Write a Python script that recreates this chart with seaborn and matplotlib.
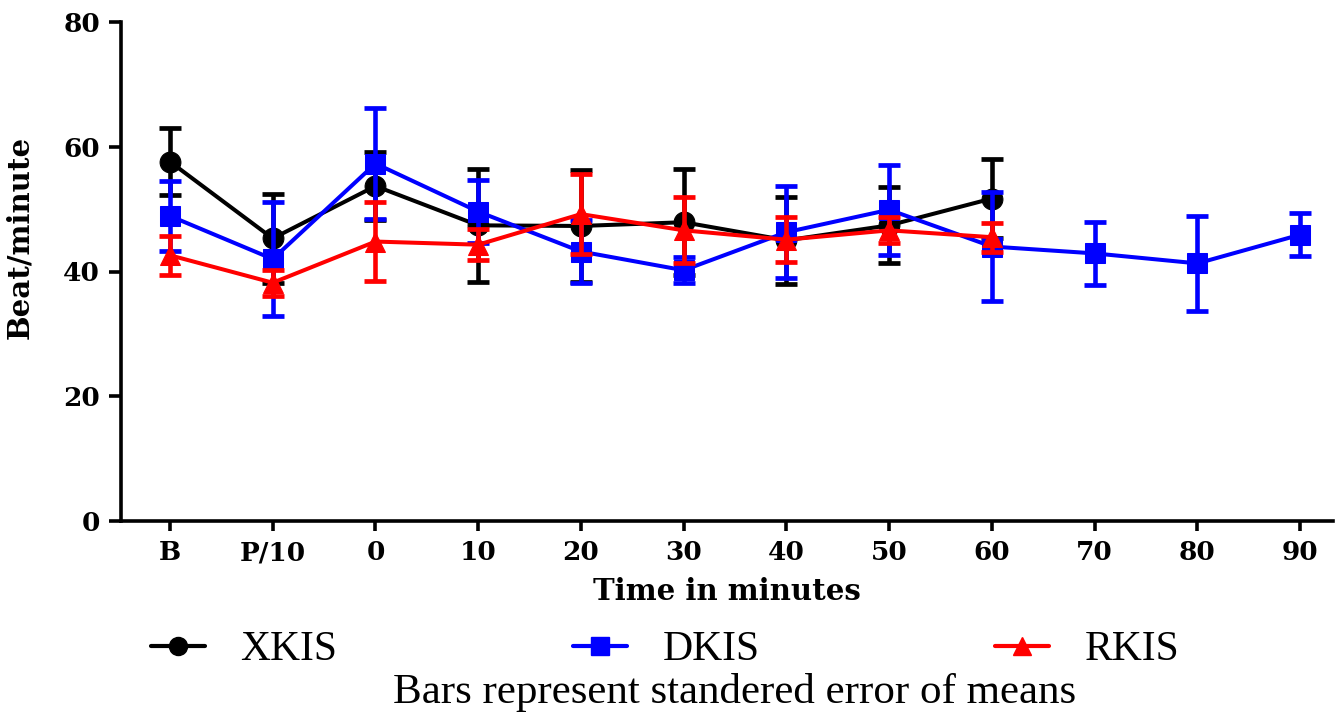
import matplotlib
matplotlib.use("Agg")
import matplotlib.pyplot as plt
import seaborn as sns
import pandas as pd
import numpy as np
from matplotlib.lines import Line2D

categories = ["B", "P/10", "0", "10", "20", "30", "40", "50", "60", "70", "80", "90"]

xkis_mean = [57.6, 45.3, 53.7, 47.4, 47.3, 47.9, 45.0, 47.4, 51.7]
xkis_se = [5.4, 7.2, 5.4, 9.1, 9.0, 8.5, 7.0, 6.1, 6.3]

dkis_mean = [48.9, 42.0, 57.3, 49.6, 43.2, 40.2, 46.3, 49.9, 44.0, 42.9, 41.3, 45.9]
dkis_se = [5.6, 9.2, 8.9, 5.0, 5.0, 2.1, 7.4, 7.2, 8.7, 5.0, 7.6, 3.4]

rkis_mean = [42.6, 38.2, 44.8, 44.3, 49.2, 46.6, 45.1, 46.6, 45.5]
rkis_se = [3.1, 2.1, 6.3, 2.5, 6.4, 5.3, 3.6, 2.1, 2.3]

series_names = ["XKIS", "DKIS", "RKIS"]
colors = ["black", "#0000ff", "#ff0000"]
markers = ["o", "s", "^"]

rows = []
for name, means, ses in zip(series_names, [xkis_mean, dkis_mean, rkis_mean],
                            [xkis_se, dkis_se, rkis_se]):
    for i, (m, s) in enumerate(zip(means, ses)):
        rows.append({"series": name, "x": i, "mean": m, "se": s})
df = pd.DataFrame(rows)

sns.set_theme(style="ticks")
plt.rcParams["font.family"] = ["DejaVu Serif"]
plt.rcParams["text.color"] = "black"
plt.rcParams["axes.labelcolor"] = "black"
plt.rcParams["xtick.color"] = "black"
plt.rcParams["ytick.color"] = "black"

fig = plt.figure(figsize=(13.35, 7.14), dpi=100)
ax = fig.add_axes([121 / 1335, 1 - 521 / 714, (1333 - 121) / 1335, (521 - 22) / 714])

for k, (name, col, mk) in enumerate(zip(series_names, colors, markers)):
    sub = df[df.series == name]
    ax.errorbar(sub["x"], sub["mean"], yerr=sub["se"], fmt="none", ecolor=col,
                elinewidth=3.3, capsize=8, capthick=3.4, zorder=2 + k * 2)
    sns.lineplot(data=sub, x="x", y="mean", ax=ax, color=col, marker=mk,
                 markersize=15 if mk != "^" else 14, markeredgecolor=col,
                 linewidth=2.9, label=name, zorder=3 + k * 2, legend=False)

ax.set_xlim(-0.477, 11.32)
ax.set_ylim(0, 80)
ax.set_xticks(range(len(categories)))
ax.set_xticklabels(categories)
ax.set_yticks([0, 20, 40, 60, 80])
for s in ["top", "right"]:
    ax.spines[s].set_visible(False)
for s in ["left", "bottom"]:
    ax.spines[s].set_linewidth(2.6)
    ax.spines[s].set_color("black")
ax.tick_params(axis="y", length=9, width=2.6, pad=6, labelsize=19, colors="black")
ax.tick_params(axis="x", length=7, width=2.6, pad=7, labelsize=19, colors="black")
for lab in ax.get_xticklabels() + ax.get_yticklabels():
    lab.set_fontweight("bold")

ax.set_xlabel("Time in minutes", fontsize=21, fontweight="bold", labelpad=8)
ax.set_ylabel("Beat/minute", fontsize=21, fontweight="bold")
ax.yaxis.set_label_coords(34 / 1335, 1 - 237 / 714, transform=fig.transFigure)

handles = [Line2D([], [], color=c, marker=m, markersize=13, linewidth=3)
           for c, m in zip(colors, markers)]
fig.legend(handles, series_names, loc="center", bbox_to_anchor=(665 / 1335, 1 - 650 / 714),
           ncol=3, frameon=False, handlelength=1.3, handletextpad=0.85,
           columnspacing=5.65, prop={"family": "Liberation Serif", "size": 30})

fig.text(735 / 1335, 1 - 703 / 714, "Bars represent standered error of means",
         ha="center", va="baseline", fontsize=31, family="Liberation Serif")

fig.savefig("out.png", dpi=100)
